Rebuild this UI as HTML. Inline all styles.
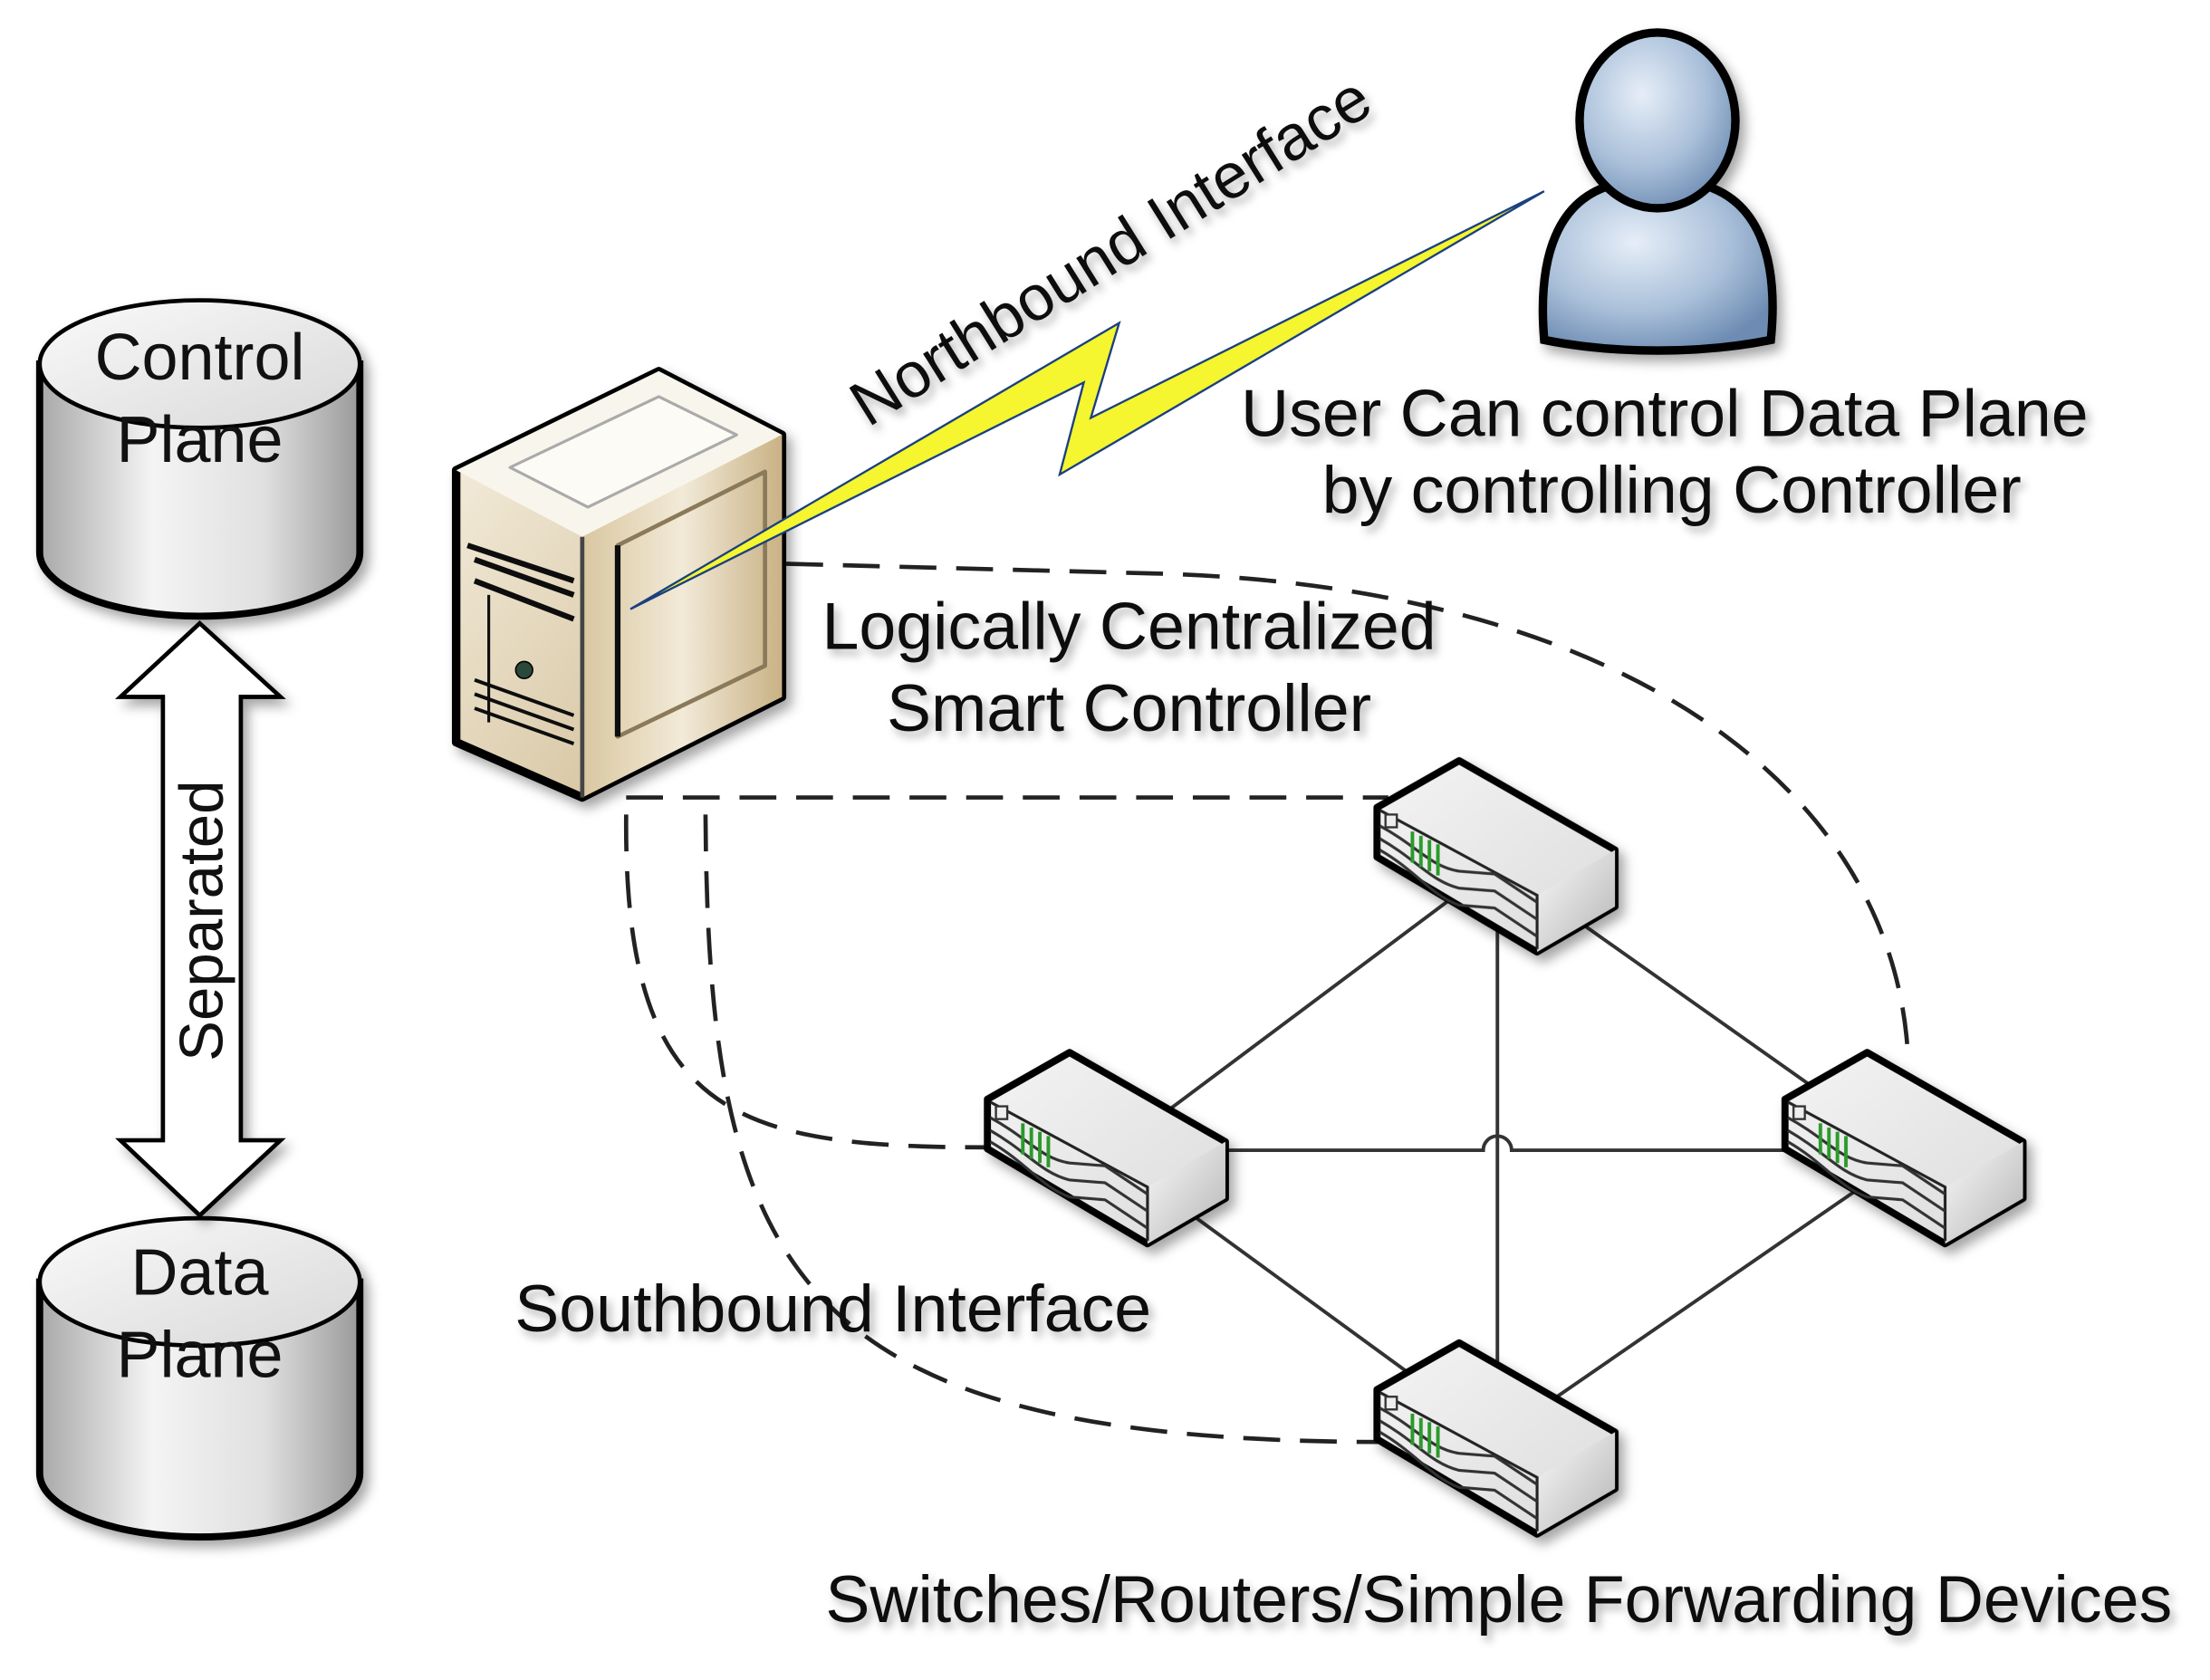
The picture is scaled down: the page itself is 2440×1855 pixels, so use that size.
<!DOCTYPE html>
<html><head><meta charset="utf-8"><style>
html,body{margin:0;padding:0;background:#fff;}
svg{display:block;}
text{font-family:"Liberation Sans",sans-serif;fill:#111;}
</style></head><body>
<svg width="2440" height="1855" viewBox="0 0 1560 1186" preserveAspectRatio="none" xmlns="http://www.w3.org/2000/svg">
<defs>
<linearGradient id="cyl" x1="0" x2="1" y1="0" y2="0">
<stop offset="0" stop-color="#a8a8a8"/><stop offset="0.35" stop-color="#f4f4f4"/><stop offset="0.7" stop-color="#e0e0e0"/><stop offset="1" stop-color="#9a9a9a"/></linearGradient>
<linearGradient id="cyltop" x1="0" x2="1" y1="0" y2="1">
<stop offset="0" stop-color="#fafafa"/><stop offset="1" stop-color="#d8d8d8"/></linearGradient>
<linearGradient id="beige" x1="0" x2="1" y1="0" y2="1">
<stop offset="0" stop-color="#f7f1e2"/><stop offset="1" stop-color="#cbb68c"/></linearGradient>
<linearGradient id="beige2" x1="0" x2="1" y1="0" y2="0">
<stop offset="0" stop-color="#d9c7a0"/><stop offset="0.5" stop-color="#f2ead8"/><stop offset="1" stop-color="#c9b285"/></linearGradient>
<radialGradient id="user" cx="0.4" cy="0.35" r="0.7">
<stop offset="0" stop-color="#e6eef8"/><stop offset="0.6" stop-color="#a9bfd9"/><stop offset="1" stop-color="#6e8cb3"/></radialGradient>
<linearGradient id="swtop" x1="0" x2="1" y1="0" y2="1"><stop offset="0" stop-color="#f4f4f4"/><stop offset="1" stop-color="#dcdcdc"/></linearGradient>
<linearGradient id="swside" x1="0" x2="1" y1="0" y2="1"><stop offset="0" stop-color="#fafafa"/><stop offset="1" stop-color="#b5b5b5"/></linearGradient>
<filter id="sh" x="-20%" y="-20%" width="150%" height="150%"><feDropShadow dx="4" dy="5" stdDeviation="4" flood-color="#000" flood-opacity="0.35"/></filter>
<filter id="tsh" x="-5%" y="-20%" width="110%" height="160%"><feDropShadow dx="3" dy="4" stdDeviation="3" flood-color="#000" flood-opacity="0.3"/></filter>
<g id="sw">
<polygon points="0,0 110,63 110,103 55,135 -58,68 -58,33" fill="url(#swtop)" stroke="#000" stroke-width="5" stroke-linejoin="round"/>
<polygon points="55,95 110,63 110,103 55,135" fill="url(#swside)"/>
<path d="M-56,35 L55,95 L55,133" fill="none" stroke="#222" stroke-width="2"/>
<path d="M-56,46 C-30,60 -20,75 0,78 L25,80 L55,100 M-56,55 C-30,70 -20,85 0,90 L25,92 L55,112 M-56,63 C-30,78 -20,95 0,102 L25,104 L55,124" fill="none" stroke="#333" stroke-width="2"/>
<rect x="-52" y="38" width="8" height="9" fill="#eee" stroke="#333" stroke-width="1.5"/>
<path d="M-33,50 v22 M-27,53 v22 M-21,56 v22 M-15,59 v22" stroke="#2a9a2a" stroke-width="2.5"/>
</g>
</defs>

<!-- cylinders -->
<g filter="url(#sh)">
<path d="M28,257 L28,390 A113,45 0 0 0 254,390 L254,257 Z" fill="url(#cyl)" stroke="#000" stroke-width="5"/>
<ellipse cx="141" cy="257" rx="113" ry="45" fill="url(#cyltop)" stroke="#000" stroke-width="3"/>
<path d="M28,905 L28,1040 A113,45 0 0 0 254,1040 L254,905 Z" fill="url(#cyl)" stroke="#000" stroke-width="5"/>
<ellipse cx="141" cy="905" rx="113" ry="45" fill="url(#cyltop)" stroke="#000" stroke-width="3"/>
</g>
<text x="141" y="268" font-size="46" text-anchor="middle">Control</text>
<text x="141" y="326" font-size="46" text-anchor="middle">Plane</text>
<text x="141" y="914" font-size="46" text-anchor="middle">Data</text>
<text x="141" y="972" font-size="46" text-anchor="middle">Plane</text>

<!-- double arrow -->
<polygon points="141,440 198,492 170,492 170,805 198,805 141,858 85,805 115,805 115,492 85,492" fill="#fff" stroke="#000" stroke-width="3" filter="url(#sh)"/>
<text transform="translate(157,650) rotate(-90)" font-size="43" text-anchor="middle">Separated</text>

<!-- dashed links -->
<g fill="none" stroke="#222" stroke-width="3" stroke-dasharray="26,14">
<path d="M555,398 L820,405 C1150,415 1340,560 1347,750"/>
<path d="M442,563 L980,563"/>
<path d="M442,575 C440,790 520,810 700,810"/>
<path d="M498,575 C500,900 560,1018 980,1018"/>
</g>

<!-- solid network links -->
<g stroke="#333" stroke-width="2.5" fill="none">
<line x1="1057" y1="610" x2="783" y2="815"/>
<line x1="1057" y1="610" x2="1347" y2="815"/>
<path d="M790,812 L1047,812 A10,10 0 0 1 1067,812 L1330,812"/>
<line x1="1057" y1="620" x2="1057" y2="1000"/>
<line x1="783" y1="815" x2="1057" y2="1015"/>
<line x1="1347" y1="815" x2="1057" y2="1015"/>
</g>

<!-- switches -->
<g filter="url(#sh)">
<use href="#sw" x="1030" y="537"/>
<use href="#sw" x="755" y="743"/>
<use href="#sw" x="1318" y="743"/>
<use href="#sw" x="1030" y="948"/>
</g>

<!-- server -->
<g filter="url(#sh)" stroke="#000" stroke-linejoin="round">
<polygon points="465,262 552,307 552,492 411,563 322,524 322,332" fill="url(#beige)" stroke-width="6"/>
<polygon points="322,332 465,262 552,307 411,379" fill="#f8f5ec" stroke-width="0"/>
<polygon points="360,330 465,280 520,307 415,358" fill="#fdfbf5" stroke="#aaa" stroke-width="2"/>
<polygon points="411,379 552,307 552,492 411,563" fill="url(#beige2)" stroke-width="0"/>
<polygon points="436,385 540,333 540,470 436,520" fill="none" stroke="#8a7a5a" stroke-width="3"/>
<line x1="411" y1="379" x2="411" y2="563" stroke="#444" stroke-width="3"/>
<line x1="436" y1="385" x2="436" y2="520" stroke="#111" stroke-width="4"/>
<path d="M330,385 L405,410 M335,395 L405,420 M335,410 L405,437" stroke="#111" stroke-width="4" fill="none"/>
<path d="M335,480 L405,505 M335,490 L405,515 M335,500 L405,525" stroke="#111" stroke-width="2.5" fill="none"/>
<line x1="345" y1="420" x2="345" y2="510" stroke="#111" stroke-width="2"/>
<circle cx="370" cy="473" r="6" fill="#2a4a3a" stroke-width="1"/>
</g>

<!-- lightning -->
<polygon points="445,430 790,228 770,295 1090,135 748,335 765,270" fill="#f5f530" stroke="#1a4080" stroke-width="1.5" stroke-linejoin="miter"/>

<!-- user -->
<g filter="url(#sh)" stroke="#000" stroke-width="6">
<path d="M1090,240 C1085,180 1100,140 1140,130 L1200,130 C1240,140 1256,180 1250,240 C1200,250 1140,250 1090,240 Z" fill="url(#user)"/>
<ellipse cx="1170" cy="85" rx="55" ry="62" fill="url(#user)"/>
</g>

<!-- labels -->
<g filter="url(#tsh)">
<text transform="translate(792,190) rotate(-32)" font-size="45" text-anchor="middle">Northbound Interface</text>
<text x="1175" y="308" font-size="47" text-anchor="middle">User Can control Data Plane</text>
<text x="1180" y="362" font-size="47" text-anchor="middle">by controlling Controller</text>
<text x="797" y="458" font-size="47" text-anchor="middle">Logically Centralized</text>
<text x="797" y="516" font-size="47" text-anchor="middle">Smart Controller</text>
<text x="588" y="940" font-size="47" text-anchor="middle">Southbound Interface</text>
<text x="1058" y="1145" font-size="47" text-anchor="middle">Switches/Routers/Simple Forwarding Devices</text>
</g>
</svg>
</body></html>
